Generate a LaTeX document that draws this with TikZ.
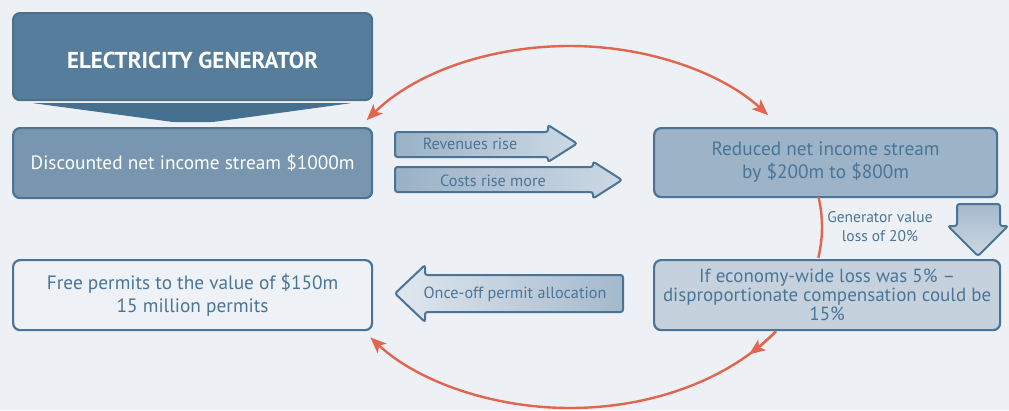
\documentclass[tikz,border=0pt]{standalone}
\usepackage{fontspec}
\setmainfont{PT Sans}
\usetikzlibrary{arrows.meta,calc}

\definecolor{bg}{HTML}{EDF0F5}
\definecolor{edge}{HTML}{4A7396}
\definecolor{ink}{HTML}{4B7596}
\definecolor{titlefill}{HTML}{567D9B}
\definecolor{chev}{HTML}{46708F}
\definecolor{discfill}{HTML}{7896AF}
\definecolor{redfill}{HTML}{9CB3C8}
\definecolor{iffill}{HTML}{C5D2DE}
\definecolor{freefill}{HTML}{EEF2F7}
\definecolor{loopred}{HTML}{E2654F}
\definecolor{shadedark}{HTML}{9AB1C6}
\definecolor{shadelight}{HTML}{CDD9E4}

\begin{document}
\begin{tikzpicture}[x=1pt,y=-1pt,
  >={Stealth[length=16pt,width=13pt,inset=4pt]},
  box/.style={draw=edge, line width=2.2pt, rounded corners=7pt, anchor=north west,
    inner sep=0pt, align=center, text=ink, font=\fontsize{19.3}{23}\selectfont},
  blockarrow/.style={draw=edge, line width=2pt, rounded corners=2.5pt},
  arrowlabel/.style={text=ink, inner sep=0pt, font=\fontsize{16.2}{19}\selectfont},
  loop/.style={draw=loopred, line width=2.4pt}
]
\useasboundingbox[fill=bg] (0,0) rectangle (1009,410);

% title block with its chevron
\node[box, fill=titlefill, draw=titlefill!90!black, minimum width=359pt, minimum height=87pt] (title) at (12,12) {};
\node[text=white, inner sep=0pt, font=\fontsize{23}{27}\selectfont\bfseries] (titletext)
  at ($(title.center)+(0,4)$) {ELECTRICITY GENERATOR};
\fill[chev, rounded corners=2pt] (32,103) -- (352,103) -- (213,122) -- (173,122) -- cycle;

% boxes
\node[box, fill=discfill, text=white, minimum width=359pt, minimum height=70pt] (disc) at (12,127)
  {Discounted net income stream \$1000m};
\node[box, fill=redfill, minimum width=343pt, minimum height=69pt] (reduced) at (653,127)
  {Reduced net income stream\\by \$200m to \$800m};
\node[box, fill=iffill, minimum width=346pt, minimum height=70pt,
  font=\fontsize{19}{19}\selectfont] (ifbox) at (653,259)
  {If economy-wide loss was 5\% --\\disproportionate compensation could be\\15\%};
\node[box, fill=freefill, minimum width=359pt, minimum height=70pt,
  font=\fontsize{19.3}{23}\selectfont] (free) at (12,259)
  {Free permits to the value of \$150m\\15 million permits};

% block arrows
\path[blockarrow, left color=shadedark, right color=shadelight]
  (395,132) -- (548,132) -- (548,125) -- (577,143.5) -- (548,162) -- (548,157) -- (395,157) -- cycle;
\node[arrowlabel] (rev) at (470,144) {Revenues rise};

\path[blockarrow, left color=shadedark, right color=shadelight]
  (395,167) -- (593,167) -- (593,161.5) -- (622,180) -- (593,198.5) -- (593,192) -- (395,192) -- cycle;
\node[arrowlabel] (cost) at (493,181) {Costs rise more};

\path[blockarrow, left color=bg!60!shadelight, right color=shadedark!80!shadelight]
  (623,275) -- (425,275) -- (425,265) -- (395,293.5) -- (425,322) -- (425,312) -- (623,312) -- cycle;
\node[arrowlabel] (once) at (515,294) {Once-off permit allocation};

\path[blockarrow, top color=shadedark!90!white, bottom color=shadelight]
  (957,204) -- (1000,204) -- (1000,226) -- (1008,226) -- (978,256) -- (948,226) -- (957,226) -- cycle;
\node[arrowlabel, align=center, font=\fontsize{15.5}{19}\selectfont] (loss) at (880,227)
  {Generator value\\loss of 20\%};

% loop of consequences
\coordinate (ring) at (570,227);
\draw[loop, <->] ($(ring)+(216.2:252 and 181)$)
  arc[start angle=216.2, end angle=321.8, x radius=252, y radius=181];
\draw[loop] ($(ring)+(-9.6:252 and 181)$)
  arc[start angle=-9.6, end angle=9.8, x radius=252, y radius=181];
\draw[loop, ->] ($(ring)+(35.2:252 and 181)$)
  arc[start angle=35.2, end angle=44.7, x radius=252, y radius=181];
\draw[loop, ->] ($(ring)+(35.2:252 and 181)$)
  arc[start angle=35.2, end angle=142.4, x radius=252, y radius=181];
\end{tikzpicture}
\end{document}
